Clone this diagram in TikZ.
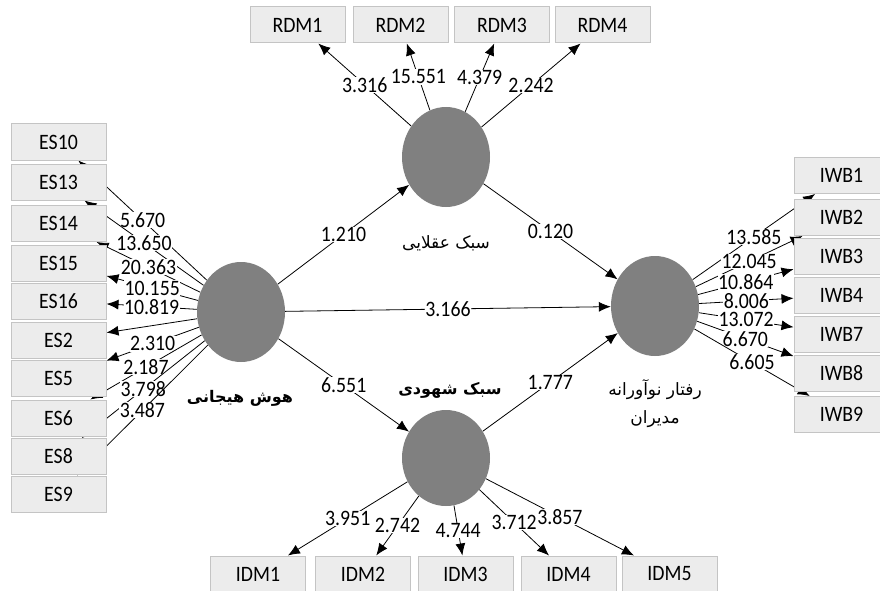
\documentclass[tikz,border=0pt]{standalone}
\usepackage{fontspec}
\setmainfont{Carlito}[FakeStretch=0.9]
\newfontfamily\arabicfont[Script=Arabic]{DejaVu Sans}
\TeXXeTstate=1
\usetikzlibrary{shapes.geometric,arrows.meta,backgrounds}

\definecolor{boxfill}{HTML}{ECECEC}
\definecolor{boxline}{HTML}{C4C4C4}
\definecolor{latentfill}{HTML}{808080}

\begin{document}
\begin{tikzpicture}[x=1pt, y=-1pt,
    indicator/.style={rectangle, draw=boxline, fill=boxfill, line width=1pt, minimum width=95pt, minimum height=36pt, inner sep=0pt, font=\fontsize{22}{24}\selectfont},
    latent/.style={ellipse, fill=latentfill, minimum width=88pt, minimum height=100pt, inner sep=0pt},
    coef/.style={fill=white, inner sep=0.5pt, font=\fontsize{22}{24}\selectfont},
    link/.style={line width=0.8pt, -{Latex[length=12pt,width=10pt]}},
    faname/.style={font=\arabicfont\fontsize{17}{28}\selectfont},
    fabold/.style={font=\arabicfont\bfseries\fontsize{16}{28}\selectfont}]

    \useasboundingbox (0,0) rectangle (880,591);

    % Latent variables
    \node[latent] (es) at (241,312) {};
    \node[latent] (rdm) at (446,157) {};
    \node[latent, minimum height=96pt] (idm) at (446,458) {};
    \node[latent] (iwb) at (655,306) {};
    \node[fabold] (es-name) at (240,398) {\beginR هوش هیجانی\endR};
    \node[faname] (rdm-name) at (446,243) {\beginR سبک عقلایی\endR};
    \node[fabold] (idm-name) at (450,390) {\beginR سبک شهودی\endR};
    \node[faname, align=center] (iwb-name) at (655,404) {\beginR رفتار نوآورانه\endR\\\beginR مدیران\endR};

    % Indicators of ES
    \node[indicator] (es10) at (58.5,142) {ES10};
    \node[indicator] (es13) at (58.5,182) {ES13};
    \node[indicator] (es14) at (58.5,223.5) {ES14};
    \node[indicator] (es15) at (58.5,263) {ES15};
    \node[indicator] (es16) at (58.5,301) {ES16};
    \node[indicator] (es2) at (58.5,340) {ES2};
    \node[indicator] (es5) at (58.5,378) {ES5};
    \node[indicator] (es6) at (58.5,418) {ES6};
    \node[indicator] (es8) at (58.5,456.5) {ES8};
    \node[indicator] (es9) at (58.5,494) {ES9};
    % Indicators of RDM
    \node[indicator] (rdm1) at (297.5,25) {RDM1};
    \node[indicator] (rdm2) at (400.5,25) {RDM2};
    \node[indicator] (rdm3) at (502,25) {RDM3};
    \node[indicator] (rdm4) at (602.5,25) {RDM4};
    % Indicators of IDM
    \node[indicator] (idm1) at (258,574) {IDM1};
    \node[indicator] (idm2) at (363,574) {IDM2};
    \node[indicator] (idm3) at (465.5,574) {IDM3};
    \node[indicator] (idm4) at (568.5,574) {IDM4};
    \node[indicator] (idm5) at (669.5,574) {IDM5};
    % Indicators of IWB
    \node[indicator] (iwb1) at (841.5,175.5) {IWB1};
    \node[indicator] (iwb2) at (841.5,217.5) {IWB2};
    \node[indicator] (iwb3) at (841.5,256.5) {IWB3};
    \node[indicator] (iwb4) at (841.5,295.5) {IWB4};
    \node[indicator] (iwb7) at (841.5,334.5) {IWB7};
    \node[indicator] (iwb8) at (841.5,373.5) {IWB8};
    \node[indicator] (iwb9) at (841.5,414.5) {IWB9};

    \begin{scope}[on background layer]
    % Outer loadings
    \draw[link] (es) -- node[coef] (c-es10) {5.670} (es10);
    \draw[link] (es) -- node[coef] (c-es13) {13.650} (es13);
    \draw[link] (es) -- node[coef] (c-es14) {20.363} (es14);
    \draw[link] (es) -- node[coef] (c-es15) {10.155} (es15);
    \draw[link] (es) -- node[coef] (c-es16) {10.819} (es16);
    \draw[link] (es) -- (es2);
    \draw[link] (es) -- node[coef] (c-es5) {2.310} (es5);
    \draw[link] (es) -- node[coef] (c-es6) {2.187} (es6);
    \draw[link] (es) -- node[coef] (c-es8) {3.798} (es8);
    \draw[link] (es) -- node[coef] (c-es9) {3.487} (es9);

    \draw[link] (rdm) -- node[coef] (c-rdm1) {3.316} (rdm1);
    \draw[link] (rdm) -- node[coef] (c-rdm2) {15.551} (rdm2);
    \draw[link] (rdm) -- node[coef] (c-rdm3) {4.379} (rdm3);
    \draw[link] (rdm) -- node[coef] (c-rdm4) {2.242} (rdm4);

    \draw[link] (idm) -- node[coef] (c-idm1) {3.951} (idm1);
    \draw[link] (idm) -- node[coef] (c-idm2) {2.742} (idm2);
    \draw[link] (idm) -- node[coef] (c-idm3) {4.744} (idm3);
    \draw[link] (idm) -- node[coef] (c-idm4) {3.712} (idm4);
    \draw[link] (idm) -- node[coef] (c-idm5) {3.857} (idm5);

    \draw[link] (iwb) -- node[coef] (c-iwb1) {13.585} (iwb1);
    \draw[link] (iwb) -- node[coef] (c-iwb2) {12.045} (iwb2);
    \draw[link] (iwb) -- node[coef] (c-iwb3) {10.864} (iwb3);
    \draw[link] (iwb) -- node[coef] (c-iwb4) {8.006} (iwb4);
    \draw[link] (iwb) -- node[coef] (c-iwb7) {13.072} (iwb7);
    \draw[link] (iwb) -- node[coef] (c-iwb8) {6.670} (iwb8);
    \draw[link] (iwb) -- node[coef] (c-iwb9) {6.605} (iwb9);

    % Inner paths
    \draw[link] (es) -- node[coef] (c-es-rdm) {1.210} (rdm);
    \draw[link] (es) -- node[coef] (c-es-idm) {6.551} (idm);
    \draw[link] (es) -- node[coef] (c-es-iwb) {3.166} (iwb);
    \draw[link] (rdm) -- node[coef] (c-rdm-iwb) {0.120} (iwb);
    \draw[link] (idm) -- node[coef] (c-idm-iwb) {1.777} (iwb);
    \end{scope}
\end{tikzpicture}
\end{document}
